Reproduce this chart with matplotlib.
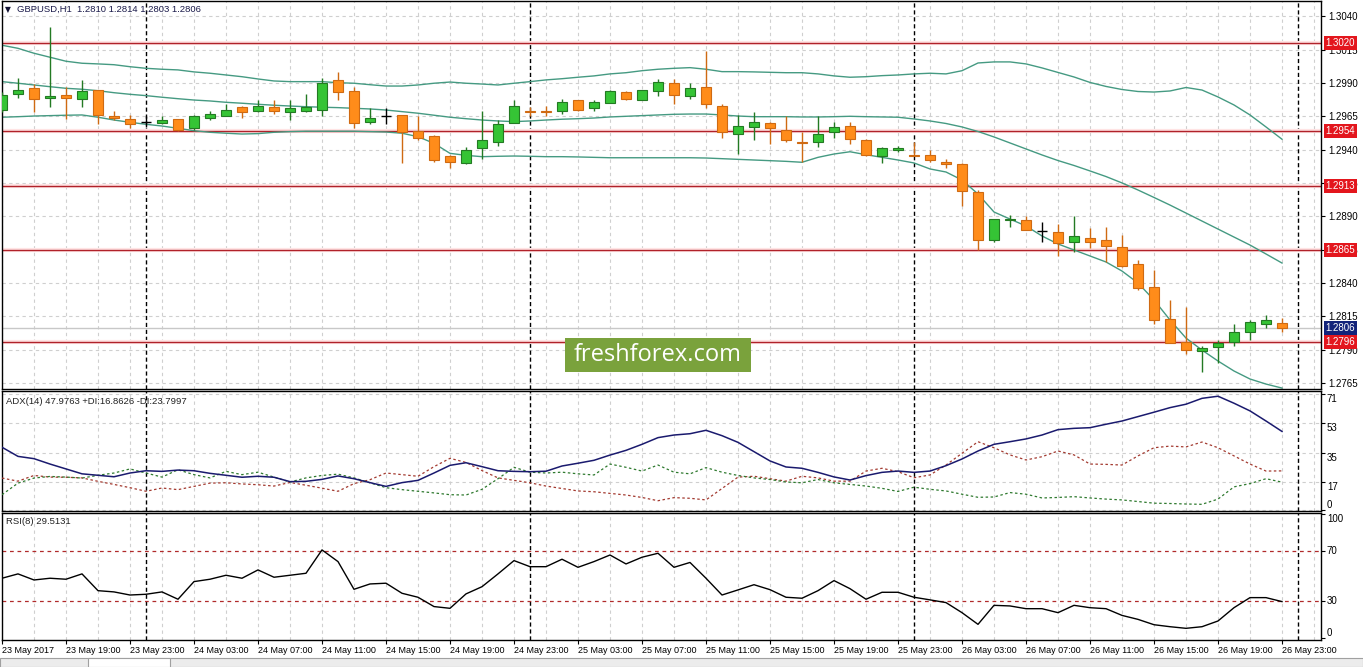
import numpy as np
import matplotlib
matplotlib.use('Agg')
import matplotlib.pyplot as plt
import matplotlib.transforms as mtransforms
from matplotlib.patches import Rectangle

plt.rcParams['font.family'] = ['Liberation Sans', 'DejaVu Sans']

########
# DATA #
########

# GBPUSD H1, 23 May 2017 15:00 -> 26 May 2017 23:00
open_ = [1.2970, 1.2982, 1.2986, 1.2979, 1.2981, 1.2978, 1.2985, 1.2965, 1.2963, 1.2961,
         1.2960, 1.2963, 1.2956, 1.2964, 1.2965, 1.2972, 1.2969, 1.2972, 1.2968, 1.2969,
         1.2970, 1.2992, 1.2984, 1.2961, 1.2965, 1.2966, 1.2954, 1.2950, 1.2935, 1.2930,
         1.2941, 1.2946, 1.2960, 1.2969, 1.2969, 1.2969, 1.2977, 1.2971, 1.2975, 1.2983,
         1.2977, 1.2984, 1.2990, 1.2980, 1.2987, 1.2973, 1.2952, 1.2957, 1.2960, 1.2955,
         1.2946, 1.2946, 1.2953, 1.2958, 1.2947, 1.2935, 1.2940, 1.2936, 1.2936, 1.2931,
         1.2929, 1.2908, 1.2872, 1.2887, 1.2887, 1.2879, 1.2878, 1.2871, 1.2874, 1.2872,
         1.2867, 1.2854, 1.2837, 1.2813, 1.2796, 1.2789, 1.2792, 1.2796, 1.2803, 1.2809,
         1.2810]
high = [1.2983, 1.2994, 1.2989, 1.3032, 1.2987, 1.2992, 1.2985, 1.2969, 1.2966, 1.2965,
        1.2965, 1.2963, 1.2966, 1.2969, 1.2974, 1.2973, 1.2977, 1.2977, 1.2977, 1.2982,
        1.2994, 1.2998, 1.2987, 1.2971, 1.2971, 1.2966, 1.2965, 1.2951, 1.2936, 1.2942,
        1.2969, 1.2962, 1.2977, 1.2972, 1.2973, 1.2978, 1.2977, 1.2977, 1.2985, 1.2984,
        1.2985, 1.2993, 1.2993, 1.2990, 1.3014, 1.2974, 1.2966, 1.2968, 1.2961, 1.2965,
        1.2953, 1.2965, 1.2961, 1.2961, 1.2948, 1.2942, 1.2943, 1.2946, 1.2940, 1.2933,
        1.2930, 1.2910, 1.2888, 1.2891, 1.2890, 1.2886, 1.2884, 1.2890, 1.2881, 1.2882,
        1.2876, 1.2857, 1.2850, 1.2827, 1.2822, 1.2793, 1.2797, 1.2809, 1.2812, 1.2816,
        1.2814]
low = [1.2968, 1.2979, 1.2968, 1.2972, 1.2963, 1.2972, 1.2959, 1.2962, 1.2956, 1.2957,
       1.2959, 1.2954, 1.2955, 1.2962, 1.2965, 1.2964, 1.2968, 1.2967, 1.2962, 1.2968,
       1.2965, 1.2977, 1.2956, 1.2959, 1.2959, 1.2930, 1.2947, 1.2931, 1.2926, 1.2929,
       1.2933, 1.2943, 1.2960, 1.2965, 1.2965, 1.2967, 1.2969, 1.2969, 1.2975, 1.2977,
       1.2977, 1.2980, 1.2974, 1.2978, 1.2971, 1.2949, 1.2937, 1.2947, 1.2944, 1.2946,
       1.2931, 1.2942, 1.2949, 1.2944, 1.2935, 1.2930, 1.2938, 1.2935, 1.2931, 1.2926,
       1.2898, 1.2865, 1.2871, 1.2882, 1.2880, 1.2871, 1.2860, 1.2863, 1.2866, 1.2856,
       1.2852, 1.2835, 1.2809, 1.2795, 1.2787, 1.2773, 1.2780, 1.2793, 1.2797, 1.2806,
       1.2803]
close = [1.2981, 1.2985, 1.2978, 1.2980, 1.2979, 1.2984, 1.2966, 1.2964, 1.2959, 1.2961,
         1.2962, 1.2955, 1.2965, 1.2967, 1.2970, 1.2968, 1.2973, 1.2969, 1.2971, 1.2972,
         1.2990, 1.2983, 1.2960, 1.2964, 1.2965, 1.2953, 1.2949, 1.2932, 1.2931, 1.2940,
         1.2947, 1.2959, 1.2973, 1.2968, 1.2968, 1.2976, 1.2970, 1.2976, 1.2984, 1.2978,
         1.2985, 1.2991, 1.2981, 1.2986, 1.2974, 1.2953, 1.2958, 1.2961, 1.2956, 1.2947,
         1.2945, 1.2952, 1.2957, 1.2948, 1.2936, 1.2941, 1.2941, 1.2935, 1.2932, 1.2929,
         1.2909, 1.2872, 1.2888, 1.2888, 1.2880, 1.2879, 1.2870, 1.2875, 1.2871, 1.2868,
         1.2853, 1.2836, 1.2812, 1.2795, 1.2790, 1.2791, 1.2795, 1.2803, 1.2811, 1.2812,
         1.2806]

# Bollinger bands
bb_upper = [1.30184, 1.30161, 1.30124, 1.30094, 1.30064, 1.30049, 1.30044, 1.30038, 1.30023, 1.30011,
            1.30004, 1.29999, 1.29984, 1.29974, 1.29961, 1.29948, 1.29931, 1.29916, 1.29911, 1.29911,
            1.29911, 1.29903, 1.29899, 1.29888, 1.29878, 1.29878, 1.29886, 1.29899, 1.29908, 1.29899,
            1.29893, 1.29886, 1.29899, 1.29911, 1.29924, 1.29933, 1.29944, 1.29954, 1.29969, 1.29978,
            1.29993, 1.30004, 1.30011, 1.30016, 1.30004, 1.29986, 1.29986, 1.29984, 1.29981, 1.29978,
            1.29978, 1.29969, 1.29954, 1.29944, 1.29948, 1.29956, 1.29961, 1.29969, 1.29974, 1.29969,
            1.29993, 1.30051, 1.30059, 1.30059, 1.30044, 1.30014, 1.29980, 1.29946, 1.29905, 1.29875,
            1.29852, 1.29837, 1.29833, 1.29841, 1.29867, 1.29848, 1.29796, 1.29736, 1.29661, 1.29571,
            1.29479]
bb_middle = [1.29911, 1.29899, 1.29886, 1.29873, 1.29861, 1.29854, 1.29843, 1.29828, 1.29816, 1.29806,
             1.29794, 1.29783, 1.29773, 1.29766, 1.29756, 1.29749, 1.29741, 1.29734, 1.29728, 1.29723,
             1.29719, 1.29716, 1.29711, 1.29706, 1.29698, 1.29686, 1.29674, 1.29659, 1.29644, 1.29633,
             1.29623, 1.29616, 1.29611, 1.29616, 1.29623, 1.29629, 1.29633, 1.29638, 1.29646, 1.29651,
             1.29656, 1.29661, 1.29666, 1.29668, 1.29668, 1.29661, 1.29653, 1.29648, 1.29648, 1.29648,
             1.29646, 1.29646, 1.29648, 1.29651, 1.29648, 1.29646, 1.29644, 1.29631, 1.29616, 1.29597,
             1.29571, 1.29537, 1.29496, 1.29451, 1.29406, 1.29361, 1.29319, 1.29282, 1.29241, 1.29199,
             1.29151, 1.29098, 1.29042, 1.28985, 1.28925, 1.28865, 1.28805, 1.28745, 1.28685, 1.28618,
             1.28550]
bb_lower = [1.29644, 1.29648, 1.29653, 1.29656, 1.29659, 1.29661, 1.29644, 1.29623, 1.29606, 1.29591,
            1.29578, 1.29561, 1.29543, 1.29531, 1.29524, 1.29518, 1.29521, 1.29531, 1.29536, 1.29539,
            1.29539, 1.29539, 1.29539, 1.29536, 1.29533, 1.29524, 1.29498, 1.29448, 1.29373, 1.29358,
            1.29348, 1.29351, 1.29353, 1.29351, 1.29348, 1.29348, 1.29346, 1.29343, 1.29340, 1.29340,
            1.29340, 1.29340, 1.29340, 1.29340, 1.29338, 1.29333, 1.29328, 1.29323, 1.29318, 1.29313,
            1.29306, 1.29343, 1.29368, 1.29385, 1.29363, 1.29343, 1.29323, 1.29301, 1.29256, 1.29233,
            1.29173, 1.29068, 1.28933, 1.28880, 1.28828, 1.28753, 1.28693, 1.28648, 1.28603, 1.28558,
            1.28490, 1.28400, 1.28273, 1.28123, 1.27987, 1.27897, 1.27815, 1.27740, 1.27680, 1.27642,
            1.27612]

# ADX(14)
adx = [38.3, 32.7, 31.3, 28.0, 25.0, 22.0, 21.1, 20.2, 22.5, 23.9,
       23.5, 24.3, 23.9, 22.3, 21.1, 19.9, 20.5, 19.9, 17.2, 17.4,
       18.6, 20.7, 19.0, 16.6, 14.3, 16.6, 18.0, 22.5, 27.2, 28.8,
       26.4, 23.9, 23.5, 23.3, 23.6, 26.8, 28.5, 30.3, 33.5, 36.4,
       40.1, 44.2, 45.8, 46.6, 48.7, 45.4, 41.3, 35.6, 29.9, 26.2,
       25.4, 22.9, 20.1, 18.2, 20.9, 22.9, 23.7, 22.9, 23.7, 27.0,
       31.1, 36.0, 40.1, 41.7, 43.4, 45.8, 49.1, 49.9, 50.3, 52.4,
       54.4, 57.1, 59.8, 62.6, 64.7, 68.3, 69.6, 65.3, 60.6, 54.4,
       48.0]
plus_di = [9.2, 16.3, 19.4, 20.4, 20.0, 19.4, 21.1, 22.5, 25.0, 22.5,
           20.0, 24.5, 21.5, 19.5, 23.5, 21.5, 23.0, 20.0, 17.0, 19.5,
           21.0, 21.8, 19.5, 16.5, 13.5, 12.3, 11.3, 10.3, 9.2, 9.0,
           12.5, 19.0, 26.0, 23.0, 22.5, 23.0, 22.0, 21.3, 28.0, 26.0,
           23.7, 27.4, 23.0, 22.0, 25.8, 23.0, 21.0, 19.5, 18.5, 17.0,
           16.5, 18.5, 16.5, 15.5, 14.5, 13.1, 11.2, 13.8, 12.5, 11.5,
           9.5, 7.6, 7.8, 10.5, 9.5, 7.2, 7.5, 8.0, 7.2, 6.5,
           6.0, 5.0, 4.0, 3.8, 3.5, 3.3, 6.5, 14.0, 16.0, 19.0,
           16.9]
minus_di = [19.4, 17.5, 21.0, 20.0, 19.9, 19.5, 17.4, 15.5, 13.5, 11.3,
            13.3, 12.3, 14.3, 16.3, 16.5, 15.8, 15.3, 14.5, 16.7, 15.0,
            13.2, 11.3, 16.0, 18.4, 22.5, 21.5, 20.5, 26.4, 31.5, 29.0,
            24.0, 19.5, 18.0, 16.5, 14.5, 13.0, 11.5, 11.0, 10.0, 9.0,
            7.5, 5.5, 7.4, 7.0, 6.0, 13.0, 20.0, 20.5, 19.0, 17.5,
            20.5, 19.5, 17.5, 17.5, 23.7, 25.4, 23.3, 19.6, 21.3, 27.4,
            34.6, 41.7, 38.0, 33.6, 30.5, 32.5, 36.0, 33.6, 28.0, 27.8,
            27.4, 33.0, 38.0, 39.0, 38.5, 41.5, 38.0, 33.0, 28.0, 23.7,
            23.8]

# RSI(8)
rsi = [48.3, 51.8, 46.9, 48.3, 47.5, 51.8, 38.3, 37.3, 34.8, 35.4,
       37.3, 31.4, 45.6, 47.5, 50.7, 48.3, 55.0, 49.1, 50.7, 52.3,
       71.1, 61.7, 39.4, 43.7, 44.3, 36.2, 33.0, 25.5, 24.1, 35.7,
       41.5, 51.8, 62.5, 57.6, 57.6, 63.6, 57.1, 61.7, 67.0, 59.8,
       65.2, 68.4, 57.1, 61.0, 48.3, 34.8, 38.9, 43.1, 39.1, 33.0,
       32.2, 38.3, 46.4, 39.9, 31.4, 37.0, 37.0, 33.0, 30.9, 28.7,
       20.6, 11.2, 26.5, 26.0, 23.8, 23.8, 20.6, 26.5, 24.6, 23.8,
       18.4, 15.2, 10.9, 9.3, 8.0, 9.3, 13.9, 24.6, 32.7, 32.7,
       29.5]

levels = [1.3020, 1.2954, 1.2913, 1.2865, 1.2796]
last_price = 1.2806
price_ticks = [1.3040, 1.3015, 1.2990, 1.2965, 1.2940, 1.2915,
               1.2890, 1.2865, 1.2840, 1.2815, 1.2790, 1.2765]
adx_ticks = [71, 53, 35, 17, 0]
rsi_ticks = [100, 70, 30, 0]
rsi_levels = [70, 30]
time_labels = ['23 May 2017', '23 May 19:00', '23 May 23:00', '24 May 03:00', '24 May 07:00',
               '24 May 11:00', '24 May 15:00', '24 May 19:00', '24 May 23:00', '25 May 03:00',
               '25 May 07:00', '25 May 11:00', '25 May 15:00', '25 May 19:00', '25 May 23:00',
               '26 May 03:00', '26 May 07:00', '26 May 11:00', '26 May 15:00', '26 May 19:00',
               '26 May 23:00']
first_hour = 15   # first bar is 23 May 15:00

##########
# LAYOUT #
##########

W, H = 1363, 667
fig = plt.figure(figsize=(W / 100, H / 100), dpi=100)

def px_axes(left, top, right, bottom):
    return fig.add_axes([left / W, 1 - bottom / H, (right - left) / W, (bottom - top) / H])

def fig_text(xpx, ypx, s, **kw):
    return fig.text(xpx / W, 1 - ypx / H, s, **kw)

ax1 = px_axes(2, 1, 1321, 389)
ax2 = px_axes(2, 391, 1321, 511)
ax3 = px_axes(2, 513, 1321, 640)

x = np.arange(len(close))
xmax = (1321 - 2) / 16.0
grid_kw = dict(color='#cfcfcf', linestyle=(0, (3, 3)), linewidth=0.8)
day_starts = [i for i in range(len(close) + 2) if (first_hour + i) % 24 == 0]

for ax in (ax1, ax2, ax3):
    ax.set_xlim(0, xmax)
    for sp in ax.spines.values():
        sp.set_color('black')
        sp.set_linewidth(1)
    ax.set_xticks(np.arange(0, xmax, 2), minor=True)
    ax.grid(which='minor', axis='x', **grid_kw)
    ax.tick_params(axis='x', which='minor', length=0)
    ax.tick_params(axis='y', left=False, labelleft=False, right=True, labelright=True,
                   length=3, width=0.8, pad=2, labelsize=7)
    ax.set_axisbelow(True)
    for d in day_starts:
        ax.axvline(d, color='black', linestyle=(0, (3, 2)), linewidth=1, zorder=1.5)

##############
# PRICE PANE #
##############

ax1.set_ylim(1.27605, 1.30516)
ax1.set_yticks(price_ticks)
ax1.set_yticklabels([f'{p:.4f}' for p in price_ticks])
ax1.set_xticks([])
ax1.grid(which='major', axis='y', **grid_kw)

# bid line
ax1.axhline(last_price, color='#c8c8c8', linewidth=1, zorder=1.6)

# horizontal levels
for lv in levels:
    ax1.axhline(lv, color='#ffe4e4', linewidth=3, zorder=1.7)
    ax1.axhline(lv, color='#b0222a', linewidth=1.0, zorder=1.8)

# Bollinger bands
for band in (bb_upper, bb_middle, bb_lower):
    ax1.plot(x, band, color='#459a82', linewidth=1, zorder=2)

# candles
body_w = 0.62
bull_fc, bull_ec = '#35c435', '#237a23'
bear_fc, bear_ec = '#ff8c1a', '#cf6a12'
for i in x:
    o, h, l, c = open_[i], high[i], low[i], close[i]
    if c > o:
        fc, ec = bull_fc, bull_ec
    elif c < o:
        fc, ec = bear_fc, bear_ec
    else:
        fc, ec = None, 'black'
    ax1.vlines(i, l, h, color=ec, linewidth=1, zorder=4)
    if fc is None:
        ax1.hlines(o, i - body_w / 2, i + body_w / 2, color='black', linewidth=1, zorder=5)
    else:
        ax1.add_patch(Rectangle((i - body_w / 2, min(o, c)), body_w, max(abs(c - o), 0.00008),
                                facecolor=fc, edgecolor=ec, linewidth=0.8, zorder=5))

# right-hand price boxes
trans1 = mtransforms.blended_transform_factory(ax1.transAxes, ax1.transData)
for lv in levels:
    ax1.text(1.0035, lv, f'{lv:.4f}', transform=trans1, ha='left', va='center', color='white',
             fontsize=7, clip_on=False, zorder=10,
             bbox=dict(boxstyle='square,pad=0.2', facecolor='#e3161d', edgecolor='none'))
ax1.text(1.0035, last_price, f'{last_price:.4f}', transform=trans1, ha='left', va='center',
         color='white', fontsize=7, clip_on=False, zorder=10,
         bbox=dict(boxstyle='square,pad=0.2', facecolor='#13237a', edgecolor='none'))

fig_text(5, 9.5, '\u25bc', fontsize=5.5, color='#111133', va='center', family=['DejaVu Sans'])
fig_text(17, 9.5, 'GBPUSD,H1  1.2810 1.2814 1.2803 1.2806', fontsize=6.8, color='#1a1a4a',
         va='center')

############
# ADX PANE #
############

ax2.set_ylim(-0.8, 72.8)
ax2.plot(x, minus_di, color='#a33a30', linewidth=0.9, linestyle=(0, (2, 2)), zorder=3)
ax2.plot(x, plus_di, color='#2f7a2f', linewidth=0.9, linestyle=(0, (2, 2)), zorder=3)
ax2.plot(x, adx, color='#1a1a6e', linewidth=1.1, zorder=4)
ax2.set_yticks(adx_ticks)
ax2.set_yticklabels([])
ax2.set_xticks([])
ax2.grid(which='major', axis='y', **grid_kw)
trans2 = mtransforms.blended_transform_factory(ax2.transAxes, ax2.transData)
for t in adx_ticks:
    ax2.text(1.0045, t, str(t), transform=trans2, ha='left', va='bottom' if t == 0 else 'top',
             fontsize=7, clip_on=False)
fig_text(6, 401, 'ADX(14) 47.9763 +DI:16.8626 -DI:23.7997', fontsize=6.8, color='#222222',
         va='center')

############
# RSI PANE #
############

ax3.set_ylim(-1.4, 100.8)
for lv in rsi_levels:
    ax3.axhline(lv, color='#b02a2a', linestyle=(0, (3, 3)), linewidth=0.9, zorder=2)
ax3.plot(x, rsi, color='black', linewidth=1, zorder=4)
ax3.set_yticks(rsi_ticks)
ax3.set_yticklabels([])
trans3 = mtransforms.blended_transform_factory(ax3.transAxes, ax3.transData)
for t in rsi_ticks:
    va = 'top' if t == 100 else ('bottom' if t == 0 else 'center')
    ax3.text(1.0045, t, str(t), transform=trans3, ha='left', va=va, fontsize=7, clip_on=False)
fig_text(6, 521, 'RSI(8) 29.5131', fontsize=6.8, color='#222222', va='center')

label_pos = np.arange(0, len(close), 4)
ax3.set_xticks(label_pos)
ax3.set_xticklabels(time_labels, fontsize=6.5, ha='left')
ax3.tick_params(axis='x', which='major', length=3, width=0.8, pad=1)
ax3.grid(which='major', axis='x', **grid_kw)

#############
# WATERMARK #
#############

fig.patches.append(Rectangle((565 / W, 1 - 372 / H), 186 / W, 34 / H, transform=fig.transFigure,
                             facecolor='#7aa23c', edgecolor='none', zorder=20))
fig_text(658, 355, 'freshforex.com', fontsize=17, color='white', ha='center', va='center',
         family=['Open Sans', 'DejaVu Sans'], zorder=21)

# terminal tab strip along the bottom
fig.patches.append(Rectangle((0, 0), 1, 9 / H, transform=fig.transFigure,
                             facecolor='#ececec', edgecolor='#a0a0a0', linewidth=0.8, zorder=5))
fig.patches.append(Rectangle((88 / W, 0), 82 / W, 9 / H, transform=fig.transFigure,
                             facecolor='white', edgecolor='#a0a0a0', linewidth=0.8, zorder=6))

fig.savefig('out.png', dpi=100)
